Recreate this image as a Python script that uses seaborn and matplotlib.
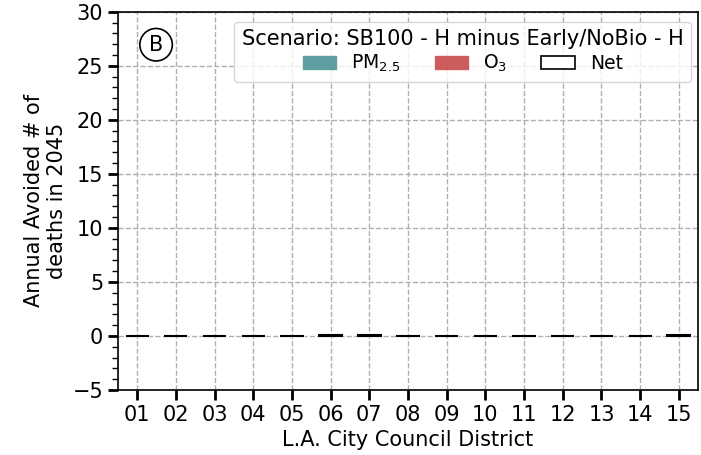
import numpy as np
import pandas as pd
import matplotlib
matplotlib.use("Agg")
import matplotlib.pyplot as plt
import seaborn as sns
from matplotlib.patches import Patch
from matplotlib.ticker import MultipleLocator

districts = ["01", "02", "03", "04", "05", "06", "07", "08", "09", "10", "11", "12", "13", "14", "15"]
pm25 = [0.03, 0.03, 0.02, 0.03, 0.03, 0.07, 0.05, 0.03, 0.02, 0.03, 0.03, 0.03, 0.03, 0.02, 0.05]
o3 = [0.00, 0.00, 0.00, 0.00, 0.00, 0.00, 0.00, 0.00, 0.00, 0.00, 0.00, 0.00, 0.00, 0.00, 0.00]
net = [p + o for p, o in zip(pm25, o3)]

df = pd.DataFrame({"district": districts, "pm": pm25, "o3": o3, "net": net})

sns.set_style("ticks")
plt.rcParams["font.family"] = ["DejaVu Sans"]
plt.rcParams["text.color"] = "black"
plt.rcParams["axes.labelcolor"] = "black"
plt.rcParams["xtick.color"] = "black"
plt.rcParams["ytick.color"] = "black"
plt.rcParams["axes.edgecolor"] = "black"

fig = plt.figure(figsize=(7.01, 4.55), dpi=100)
ax = fig.add_axes([0.168, 0.143, 0.828, 0.831])

pm_col = "#5F9EA0"
o3_col = "#CD5C5C"

sns.barplot(data=df, x="district", y="pm", color=pm_col, width=0.6, ax=ax, zorder=2, saturation=1)
sns.barplot(data=df, x="district", y="o3", color=o3_col, width=0.6, ax=ax, zorder=2, saturation=1)
sns.barplot(data=df, x="district", y="net", fill=False, edgecolor="black", linewidth=1.5,
            width=0.6, ax=ax, zorder=3)

ax.set_ylim(-5, 30)
ax.set_xlim(-0.5, 14.5)
ax.yaxis.set_major_locator(MultipleLocator(5))
ax.yaxis.set_minor_locator(MultipleLocator(1))
ax.grid(True, which="major", linestyle="--", color="#b0b0b0", linewidth=1, zorder=0)
ax.set_axisbelow(True)
for s in ax.spines.values():
    s.set_linewidth(1.2)
    s.set_visible(True)
ax.tick_params(axis="both", which="major", length=7, width=2, labelsize=15, direction="out")
ax.tick_params(axis="y", which="minor", length=4, width=1)
ax.set_xlabel("L.A. City Council District", fontsize=15)
ax.set_ylabel("Annual Avoided # of\ndeaths in 2045", fontsize=15)

ax.text(0.066, 0.913, "B", transform=ax.transAxes, fontsize=15, ha="center", va="center",
        bbox=dict(boxstyle="circle,pad=0.3", facecolor="white", edgecolor="black", linewidth=1.2))

handles = [Patch(facecolor=pm_col, edgecolor=pm_col, label="PM$_{2.5}$"),
           Patch(facecolor=o3_col, edgecolor=o3_col, label="O$_3$"),
           Patch(facecolor="white", edgecolor="black", linewidth=1.2, label="Net")]
leg = ax.legend(handles=handles, ncol=3, loc="upper right", bbox_to_anchor=(0.988, 0.974),
                fontsize=13.5, title="Scenario: SB100 - H minus Early/NoBio - H", title_fontsize=15,
                frameon=True, handlelength=1.8, handleheight=0.65, handletextpad=0.8,
                columnspacing=1.8, borderaxespad=0.0, borderpad=0.4, labelspacing=0.2)

fig.savefig("out.png", dpi=100)
